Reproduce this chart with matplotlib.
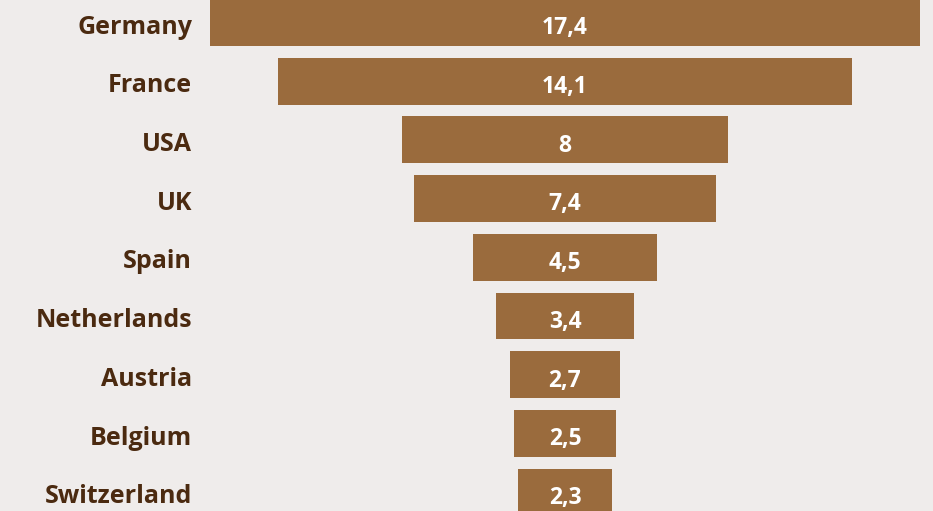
import matplotlib
matplotlib.use("Agg")
import matplotlib.pyplot as plt

countries = ["Germany", "France", "USA", "UK", "Spain", "Netherlands", "Austria", "Belgium", "Switzerland"]
values = [17.4, 14.1, 8, 7.4, 4.5, 3.4, 2.7, 2.5, 2.3]
value_labels = ["17,4", "14,1", "8", "7,4", "4,5", "3,4", "2,7", "2,5", "2,3"]

bar_color = "#9a6b3d"
text_color = "#4b2a10"
bg = "#efeceb"

fig = plt.figure(figsize=(9.33, 5.11), dpi=100, facecolor=bg)
ax = fig.add_axes([0, 0, 1, 1])
ax.set_facecolor(bg)

ys = list(range(len(countries)))
lefts = [-v / 2 for v in values]
ax.barh(ys, values, left=lefts, height=0.8, color=bar_color)

for y, name, lab in zip(ys, countries, value_labels):
    ax.text(-9.15, y + 0.08, name, ha="right", va="center", fontsize=18,
            fontweight="bold", color=text_color, family="Open Sans")
    ax.text(0, y + 0.1, lab, ha="center", va="center", fontsize=16.5,
            fontweight="bold", color="white", family="Open Sans")

ax.set_xlim(-565 / 40.75, (933 - 565) / 40.75)
ax.set_ylim((511 - 22.5) / 58.7, -22.5 / 58.7)
ax.axis("off")

fig.savefig("out.png", dpi=100, facecolor=bg)
